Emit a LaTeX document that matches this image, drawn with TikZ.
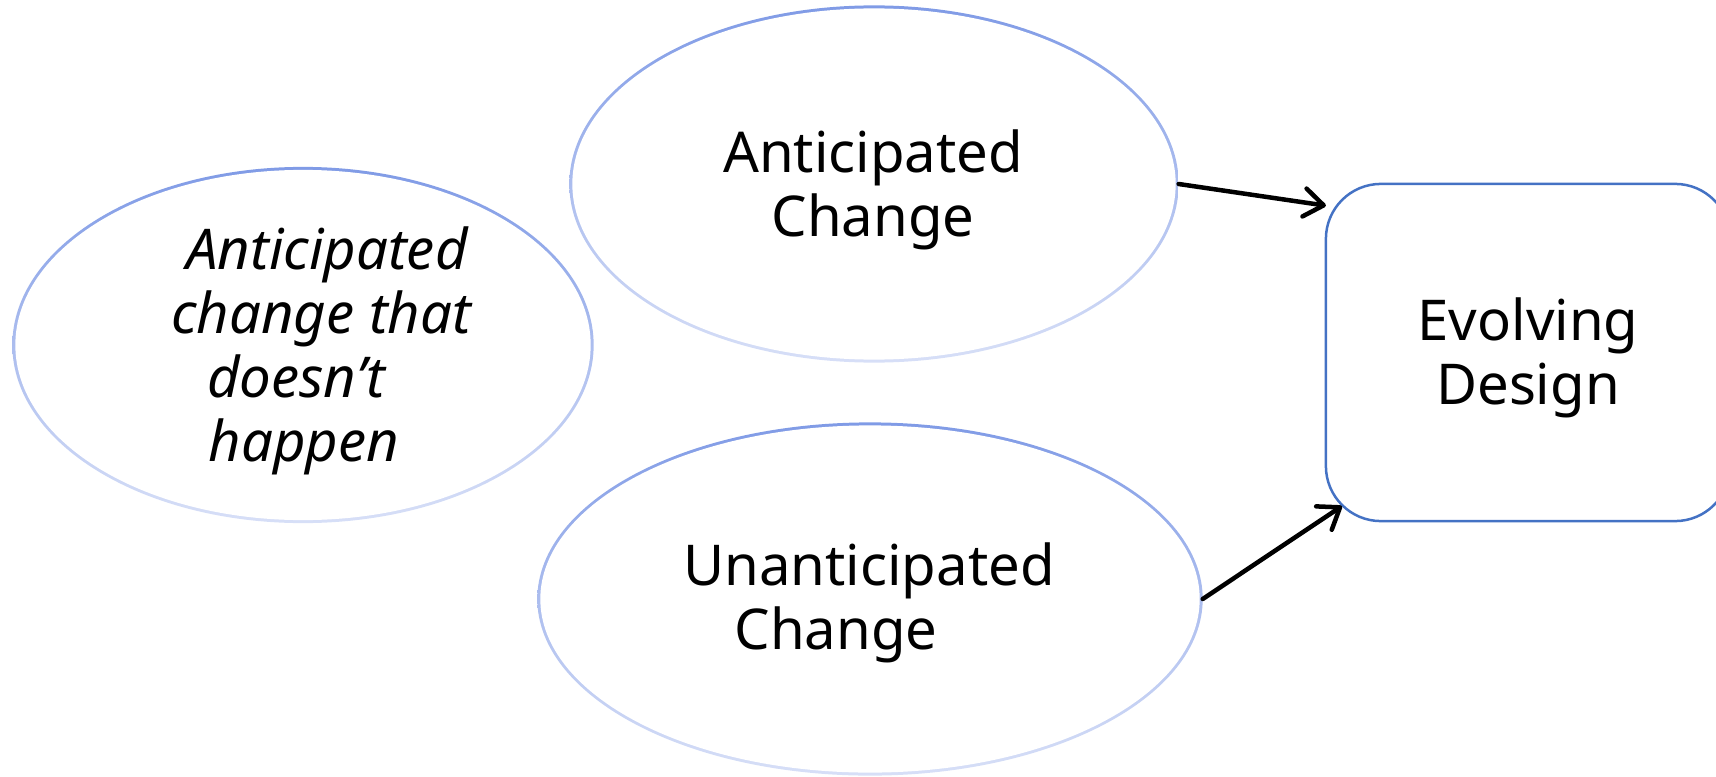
\documentclass[tikz,border=0pt]{standalone}
\usepackage{fontspec}
\setmainfont{Noto Sans}
\usetikzlibrary{shapes.geometric,arrows.meta,calc}
\definecolor{ellTop}{RGB}{128,155,230}
\definecolor{ellBot}{RGB}{215,223,247}
\definecolor{boxBlue}{RGB}{68,114,196}
\begin{document}
\begin{tikzpicture}[x=0.01cm,y=-0.01cm,
  ringshade/.style={ellipse, inner sep=0pt, outer sep=0pt, top color=ellTop, bottom color=ellBot, draw=none},
  label/.style={inner sep=0pt, align=center, font=\fontsize{16}{18.2}\selectfont},
  arr/.style={draw=black, line width=0.045cm, line cap=round, -{Straight Barb[length=5.5pt,width=8pt,line cap=round,line join=round]}}]
\useasboundingbox (0,0) rectangle (1716,776);
% left ellipse
\node[ringshade, minimum width=5.81cm, minimum height=3.56cm] (dnh) at (303,345) {};
\fill[white] (dnh.center) ellipse [x radius=2.875cm, y radius=1.75cm];
\node[label, font=\fontsize{16}{18.2}\selectfont\itshape] (dnhText) at (315,351)
  {\mbox{\hspace{0.24cm}Anticipated}\\\mbox{\hspace{0.12cm}change that}\\\mbox{doesn’t\hspace{0.38cm}}\\\mbox{happen\hspace{0.22cm}}};
% anticipated
\node[ringshade, minimum width=6.09cm, minimum height=3.57cm] (ant) at (874,184) {};
\fill[white] (ant.center) ellipse [x radius=3.015cm, y radius=1.755cm];
\node[label] (antText) at (873,190) {Anticipated\\Change};
% unanticipated
\node[ringshade, minimum width=6.65cm, minimum height=3.53cm] (unant) at (870,599) {};
\fill[white] (unant.center) ellipse [x radius=3.295cm, y radius=1.735cm];
\node[label] (unantText) at (869,603) {Unanticipated\\\mbox{Change\hspace{0.66cm}}};
% evolving design
\node[draw=boxBlue, line width=0.025cm, rounded corners=0.55cm, minimum width=4.04cm, minimum height=3.37cm,
  inner sep=0pt, outer sep=0pt] (evo) at (1528,352.5) {};
\node[label] (evoText) at (1528,358) {Evolving\\Design};
% arrows
\draw[arr] (ant.east) -- (evo.144.8);
\draw[arr] (unant.east) -- ([xshift=0.16cm,yshift=0.15cm]evo.south west);
\end{tikzpicture}
\end{document}
